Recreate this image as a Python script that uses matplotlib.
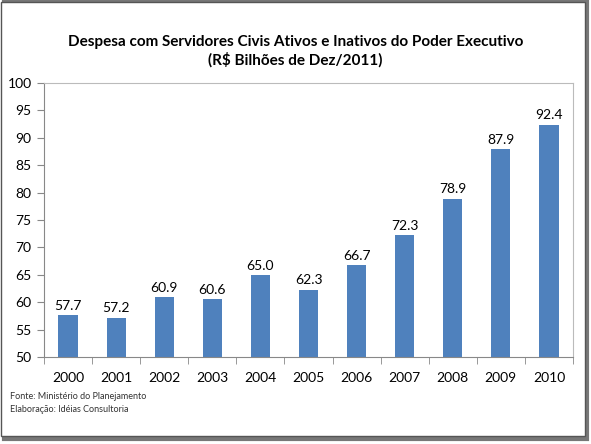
import matplotlib.pyplot as plt
import matplotlib.patches as mpatches
import numpy as np

plt.rcParams['font.family'] = ['Lato', 'DejaVu Sans']

anos = ['2000', '2001', '2002', '2003', '2004', '2005', '2006', '2007', '2008', '2009', '2010']
despesa = [57.7, 57.2, 60.9, 60.6, 65.0, 62.3, 66.7, 72.3, 78.9, 87.9, 92.4]
yticks = [50, 55, 60, 65, 70, 75, 80, 85, 90, 95, 100]

fig = plt.figure(figsize=(5.91, 4.44), dpi=100)
ax = fig.add_axes([0.0745, 0.196, 0.895, 0.617])

x = np.arange(len(anos))
ax.bar(x, [v - 50 for v in despesa], bottom=50, width=0.4, color='#4F81BD', zorder=2)
for xi, v in zip(x, despesa):
    ax.text(xi, v + 0.6, f'{v:.1f}', ha='center', va='bottom', fontsize=10, color='black')

ax.set_xlim(-0.5, len(anos) - 0.5)
ax.set_ylim(50, 100)
ax.set_yticks(yticks)
ax.set_yticklabels([str(t) for t in yticks], fontsize=10)
ax.set_xticks(x)
ax.set_xticklabels(anos, fontsize=10)
ax.tick_params(axis='x', length=0, pad=11)
ax.set_xticks(np.arange(-0.5, len(anos)), minor=True)
ax.tick_params(axis='x', which='minor', length=5, color='#888888')
ax.tick_params(axis='y', length=5, color='#888888', pad=4)
for s in ax.spines.values():
    s.set_color('#BBBBBB')
ax.spines['left'].set_color('#888888')
ax.spines['bottom'].set_color('#888888')

fig.text(0.5, 0.905, 'Despesa com Servidores Civis Ativos e Inativos do Poder Executivo',
         ha='center', va='center', fontsize=11, fontweight='bold')
fig.text(0.5, 0.866, '(R$ Bilhões de Dez/2011)', ha='center', va='center', fontsize=11, fontweight='bold')

fig.text(0.017, 0.108, 'Fonte: Ministério do Planejamento', fontsize=6.5, color='#333333', va='center')
fig.text(0.017, 0.078, 'Elaboração: Idéias Consultoria', fontsize=6.5, color='#333333', va='center')

# moldura com sombra
fig.patches.append(mpatches.Rectangle((0.006, 0.012), 0.988, 0.984, transform=fig.transFigure,
                                      fill=False, edgecolor='#777777', linewidth=3, zorder=-2))
fig.patches.append(mpatches.Rectangle((0.002, 0.018), 0.988, 0.978, transform=fig.transFigure,
                                      facecolor='white', edgecolor='#555555', linewidth=1, zorder=-1))

fig.savefig('out.png', dpi=100)
